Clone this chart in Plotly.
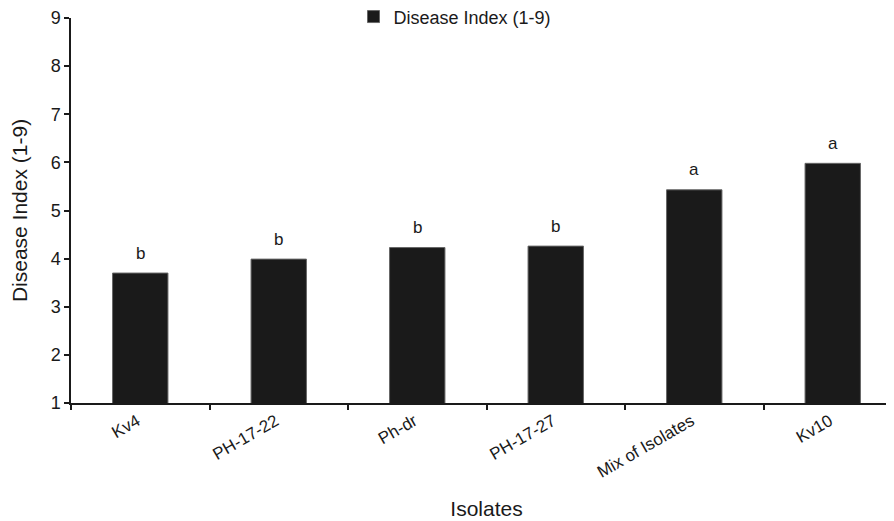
import plotly.graph_objects as go

categories = ["Kv4", "PH-17-22", "Ph-dr", "PH-17-27", "Mix of Isolates", "Kv10"]
values = [3.70, 3.99, 4.23, 4.26, 5.43, 5.98]
letters = ["b", "b", "b", "b", "a", "a"]
y_ticks = [1, 2, 3, 4, 5, 6, 7, 8, 9]
series_name = "Disease Index (1-9)"

FONT = "Liberation Sans, Arial, sans-serif"
INK = "#1a1a1a"

fig = go.Figure()
fig.add_trace(go.Bar(
    x=categories, y=values, name=series_name,
    width=0.4,
    marker=dict(color=INK, line=dict(color="#666666", width=1)),
    showlegend=True,
))

for c, v, t in zip(categories, values, letters):
    fig.add_annotation(x=c, y=v, text=t, showarrow=False, yshift=20,
                       yanchor="middle", font=dict(family=FONT, size=17, color=INK))

fig.update_layout(
    width=894, height=521,
    margin=dict(l=63, r=0, t=10, b=126, autoexpand=False),
    paper_bgcolor="white", plot_bgcolor="white",
    font=dict(family=FONT, color=INK),
    legend=dict(orientation="h", xref="container", yref="container",
                x=0.5, y=0.983, xanchor="center", yanchor="middle",
                font=dict(family=FONT, size=18, color=INK),
                itemwidth=30, bgcolor="rgba(0,0,0,0)"),
    xaxis=dict(
        type="category", range=[-0.5, 5.5], automargin=False,
        showline=True, linecolor=INK, linewidth=1.5,
        ticks="outside", tickson="boundaries", ticklen=5, tickcolor=INK, tickwidth=1.5,
        tickangle=-30, ticklabelshift=-3,
        tickfont=dict(family=FONT, size=17, color=INK),
        showgrid=False, zeroline=False,
        title=dict(text="Isolates", font=dict(family=FONT, size=21, color=INK), standoff=20),
    ),
    yaxis=dict(
        range=[1, 9], tickvals=y_ticks, ticktext=[str(t) for t in y_ticks], automargin=False,
        showline=True, linecolor=INK, linewidth=1.5,
        ticks="outside", ticklen=5, tickcolor=INK, tickwidth=1.5,
        tickfont=dict(family=FONT, size=18, color=INK),
        showgrid=False, zeroline=False,
        title=dict(text="Disease Index (1-9)", font=dict(family=FONT, size=21, color=INK), standoff=20),
    ),
)

fig.write_html("out.html")
